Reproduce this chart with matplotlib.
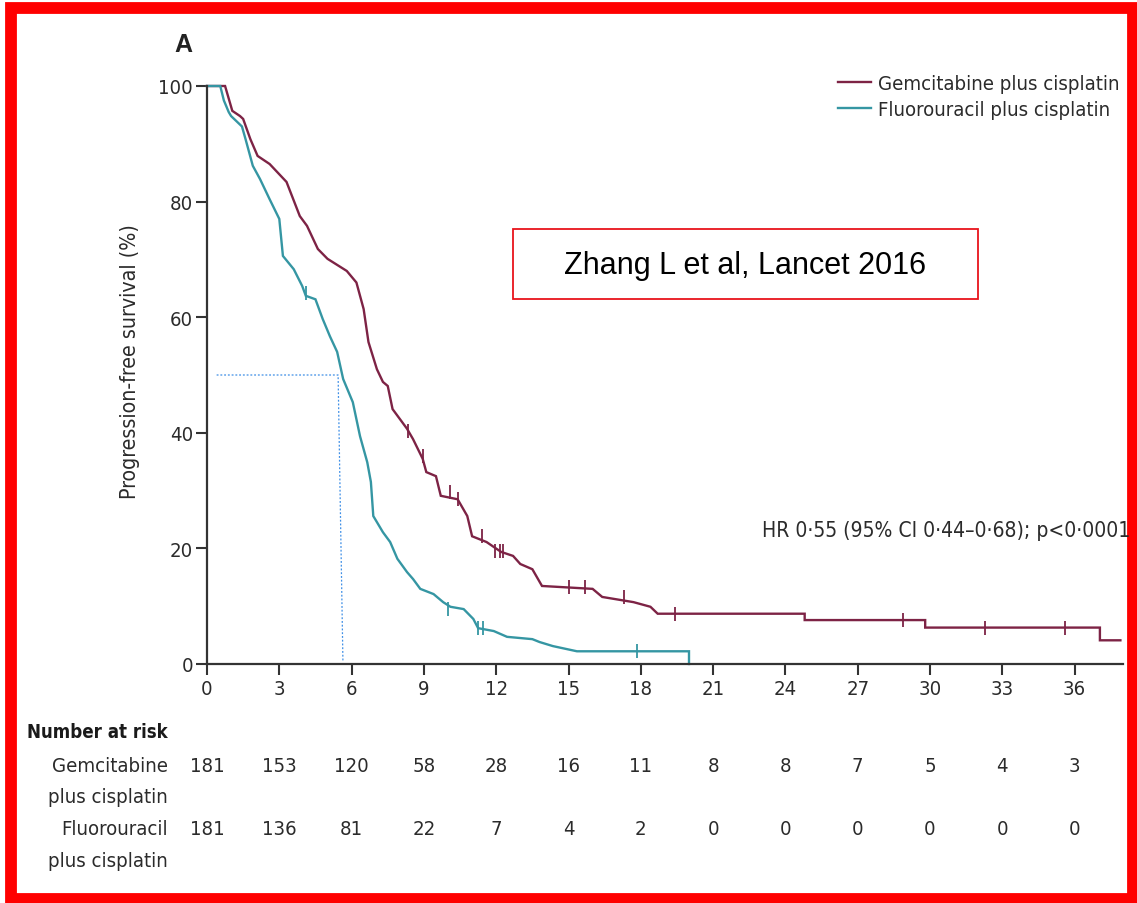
import matplotlib
matplotlib.use("Agg")
import matplotlib.pyplot as plt
import matplotlib.font_manager as fm
from matplotlib.patches import Rectangle
from matplotlib.transforms import blended_transform_factory

# ---------------- data ----------------
gem_t = [0, 0.75, 1.05, 1.37, 1.5, 1.8, 2.1, 2.6, 3.3, 3.85, 4.15, 4.6, 5.0, 5.8, 6.2, 6.5, 6.7, 7.05,
         7.3, 7.5, 7.7, 8.3, 8.55, 8.95, 9.1, 9.5, 9.7, 10.4, 10.8, 11.0, 11.6, 12.2, 12.7, 13.0, 13.5,
         13.9, 16.0, 16.4, 17.7, 18.4, 18.7, 24.8, 24.8, 29.8, 29.8, 37.05, 37.05, 37.9]
gem_s = [100, 100, 95.7, 94.8, 94.3, 90.8, 87.9, 86.5, 83.4, 77.5, 75.8, 71.8, 70.1, 68.0, 66.0, 61.4, 55.7, 51.0,
         48.8, 48.1, 44.1, 40.7, 38.9, 35.5, 33.2, 32.5, 29.1, 28.5, 25.6, 22.1, 21.1, 19.4, 18.7, 17.3, 16.4,
         13.5, 13.0, 11.6, 10.7, 9.9, 8.7, 8.7, 7.6, 7.6, 6.3, 6.3, 4.1, 4.1]
gem_cens_t = [8.35, 8.95, 10.1, 10.4, 11.4, 11.95, 12.15, 12.3, 15.0, 15.7, 17.3, 19.4, 28.9, 32.3, 35.6]
gem_cens_s = [40.3, 36.0, 29.8, 28.5, 22.1, 19.6, 19.6, 19.5, 13.3, 13.3, 11.6, 8.7, 7.6, 6.3, 6.3]

fu_t = [0, 0.55, 0.7, 0.9, 1.0, 1.45, 1.6, 1.9, 2.2, 2.6, 3.0, 3.15, 3.6, 3.95, 4.1, 4.5, 4.8, 5.1, 5.4,
        5.65, 6.05, 6.35, 6.65, 6.8, 6.9, 7.3, 7.6, 7.9, 8.3, 8.55, 8.85, 9.4, 9.8, 10.1, 10.65, 11.05,
        11.25, 11.9, 12.45, 13.5, 13.8, 14.35, 15.35, 20.0, 20.0]
fu_s = [100, 100, 97.5, 95.5, 94.8, 93.0, 90.8, 86.2, 83.9, 80.4, 77.0, 70.6, 68.3, 65.4, 63.7, 63.1, 59.7, 56.7, 54.0,
        49.3, 45.3, 39.4, 34.9, 31.5, 25.6, 22.8, 21.1, 18.2, 15.9, 14.7, 13.0, 12.1, 10.7, 9.9, 9.5, 7.8,
        6.2, 5.7, 4.7, 4.3, 3.8, 3.1, 2.2, 2.2, 0]
fu_cens_t = [4.1, 10.0, 11.25, 11.45, 17.85]
fu_cens_s = [64.2, 9.6, 6.2, 6.2, 2.2]

median_t = [0.4, 5.44, 5.64]
median_s = [50, 50, 0.5]

months = [0, 3, 6, 9, 12, 15, 18, 21, 24, 27, 30, 33, 36]
yticks = [0, 20, 40, 60, 80, 100]
risk_gem = [181, 153, 120, 58, 28, 16, 11, 8, 8, 7, 5, 4, 3]
risk_fu = [181, 136, 81, 22, 7, 4, 2, 0, 0, 0, 0, 0, 0]

label_gem = "Gemcitabine plus cisplatin"
label_fu = "Fluorouracil plus cisplatin"
hr_text = "HR 0·55 (95% CI 0·44–0·68); p<0·0001"
citation = "Zhang L et al, Lancet 2016"

# ---------------- fonts ----------------
names = {f.name for f in fm.fontManager.ttflist}
cond_dejavu = any("Condensed" in f.fname and "DejaVuSans" in f.fname for f in fm.fontManager.ttflist)
if "Liberation Sans Narrow" in names:
    NF = dict(family=["Liberation Sans Narrow", "DejaVu Sans"])
    SC = 1.0
elif cond_dejavu:
    NF = dict(family=["DejaVu Sans"], stretch="condensed")
    SC = 0.9
else:
    NF = dict(family=["Liberation Sans", "DejaVu Sans"])
    SC = 0.85

W, H = 1137, 904
GEM_C = "#7d2345"
FU_C = "#3596a3"
TXT = "#2b2b2b"
FS = 16.2 * SC

fig = plt.figure(figsize=(W / 100, H / 100), dpi=100)
fig.patch.set_facecolor("white")

px_per_month = 24.1
ax = fig.add_axes([207 / W, (H - 665) / H, 38 * px_per_month / W, 578 / H])
ax.set_xlim(0, 38)
ax.set_ylim(0, 100)

ax.plot(gem_t, gem_s, color=GEM_C, lw=1.7, clip_on=False, label=label_gem, solid_joinstyle="miter")
ax.plot(fu_t, fu_s, color=FU_C, lw=1.7, clip_on=False, label=label_fu, solid_joinstyle="miter")
ax.plot(gem_cens_t, gem_cens_s, ls="none", marker="|", ms=10, mew=1.3, color=GEM_C, clip_on=False)
ax.plot(fu_cens_t, fu_cens_s, ls="none", marker="|", ms=10, mew=1.3, color=FU_C, clip_on=False)
ax.plot(median_t, median_s, color="#3f8fe6", lw=0.9, ls=(0, (1.5, 1.5)), clip_on=False)

for s in ["top", "right"]:
    ax.spines[s].set_visible(False)
for s in ["left", "bottom"]:
    ax.spines[s].set_linewidth(1.6)
    ax.spines[s].set_color("#333333")
ax.spines["left"].set_bounds(0, 100)

ax.set_xticks(months)
ax.set_yticks(yticks)
ax.tick_params(direction="out", length=8, width=1.5, colors="#333333", labelcolor=TXT, labelsize=FS)
ax.tick_params(axis="x", pad=3)
ax.tick_params(axis="y", pad=2)
for lab in ax.get_xticklabels() + ax.get_yticklabels():
    lab.set_fontproperties(fm.FontProperties(size=FS, **NF))
    lab.set_color(TXT)

fig.text(130 / W, 1 - 362 / H, "Progression-free survival (%)", rotation=90, ha="center", va="center",
         fontsize=FS * 1.05, color=TXT, **NF)
fig.text(183 / W, 1 - 45 / H, "A", ha="center", va="center", fontsize=18, fontweight="bold",
         color="#222222", family=["Liberation Sans", "DejaVu Sans"])

leg = ax.legend(loc="upper left", bbox_to_anchor=(838 / W, 1 - 75 / H), bbox_transform=fig.transFigure,
                frameon=False, borderpad=0, borderaxespad=0, handlelength=1.65, handletextpad=0.35,
                labelspacing=0.35, prop=fm.FontProperties(size=FS, **NF))
for t in leg.get_texts():
    t.set_color(TXT)

fig.text(1130 / W, 1 - 531 / H, hr_text, ha="right", va="center", fontsize=FS * 1.04, color=TXT, **NF)

# citation box
fig.patches.append(Rectangle((513 / W, 1 - 300 / H), (978 - 513) / W, 70 / H, transform=fig.transFigure,
                             fill=False, ec="#e8141b", lw=1.3))
fig.text(745 / W, 1 - 266 / H, citation, ha="center", va="center", fontsize=22, color="black",
         family=["Liberation Sans", "DejaVu Sans"])

# number at risk
tr = blended_transform_factory(ax.transData, fig.transFigure)
fig.text(168 / W, 1 - 733 / H, "Number at risk", ha="right", va="center", fontsize=FS * 0.92,
         fontweight="bold", color="#1a1a1a", **NF)
for txt, y in [("Gemcitabine", 767), ("plus cisplatin", 798), ("Fluorouracil", 830), ("plus cisplatin", 862)]:
    fig.text(168 / W, 1 - y / H, txt, ha="right", va="center", fontsize=FS, color=TXT, **NF)
for m, g, f in zip(months, risk_gem, risk_fu):
    ax.text(m, 1 - 767 / H, str(g), transform=tr, ha="center", va="center", fontsize=FS, color=TXT, **NF)
    ax.text(m, 1 - 830 / H, str(f), transform=tr, ha="center", va="center", fontsize=FS, color=TXT, **NF)

# red frame
fig.patches.append(Rectangle((11 / W, 1 - 900 / H), (1133 - 11) / W, (900 - 9) / H, transform=fig.transFigure,
                             fill=False, ec="#ff0000", lw=8.5))

fig.savefig("out.png", dpi=100)
